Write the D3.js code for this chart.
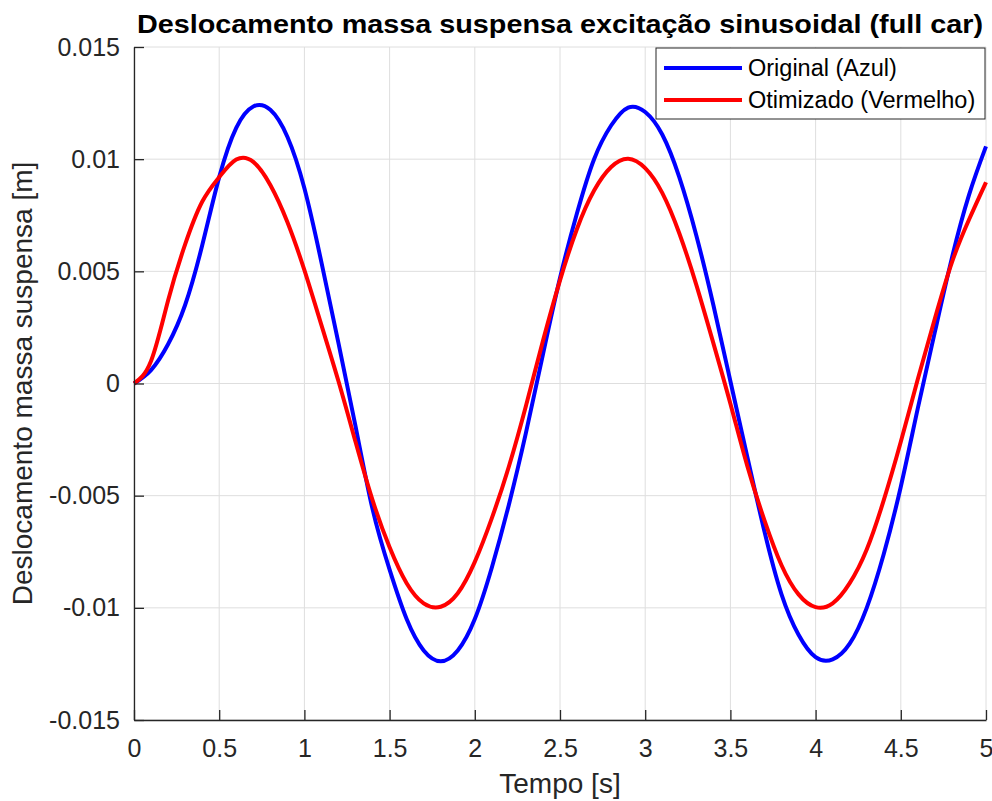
<!DOCTYPE html>
<html>
<head>
<meta charset="utf-8">
<script src="https://cdn.jsdelivr.net/npm/d3@7"></script>
<style>
  body { margin: 0; background: #fff; }
  svg { display: block; font-family: "Liberation Sans", Arial, sans-serif; }
  .axis text { font-size: 25px; fill: #262626; }
  .axis line, .axis path { stroke: #262626; stroke-width: 1.3; }
</style>
</head>
<body>
<div id="wrapper"></div>
<script>
// tempo [s], amostrado a cada 0.1 s
const tempo = d3.range(51).map(i => +(i * 0.1).toFixed(1));

// Original (Azul) [mm]
const originalMm = [
  0, 0.6, 1.75, 3.5, 6.15, 9.2, 11.4, 12.35, 12.2, 11.0,
  8.7, 5.4, 1.8, -1.9, -5.6, -8.3, -10.5, -11.9, -12.38, -11.9,
  -10.5, -8.2, -5.4, -2.2, 1.3, 4.7, 7.6, 10.0, 11.5, 12.3,
  12.1, 11.1, 9.2, 6.6, 3.5, 0.1, -3.3, -6.6, -9.4, -11.2,
  -12.2, -12.3, -11.6, -10.0, -7.6, -4.6, -1.1, 2.3, 5.6, 8.4,
  10.57
];

// Otimizado (Vermelho) [mm]
const otimizadoMm = [
  0, 1.0, 3.7, 6.2, 8.1, 9.2, 9.98, 9.88, 8.85, 7.2,
  5.05, 2.6, 0.1, -2.6, -5.2, -7.3, -8.9, -9.8, -9.95, -9.35,
  -7.95, -6.0, -3.7, -1.0, 1.9, 4.6, 6.9, 8.6, 9.65, 10.02,
  9.6, 8.5, 6.7, 4.4, 1.8, -0.9, -3.7, -6.1, -8.1, -9.4,
  -9.97, -9.8, -8.9, -7.4, -5.2, -2.6, 0.2, 2.9, 5.4, 7.3,
  8.97
];

const xTicks = [0, 0.5, 1, 1.5, 2, 2.5, 3, 3.5, 4, 4.5, 5];
const yTicks = [-0.015, -0.01, -0.005, 0, 0.005, 0.01, 0.015];

const series = [
  { name: 'Original (Azul)', color: '#0000ff', values: originalMm },
  { name: 'Otimizado (Vermelho)', color: '#ff0000', values: otimizadoMm }
];

const width = 992, height = 801;
const margin = { top: 47, right: 6, bottom: 81, left: 134 };

const svg = d3.select('#wrapper')
  .append('svg')
  .attr('width', width)
  .attr('height', height);

const xScale = d3.scaleLinear()
  .domain([0, 5])
  .range([margin.left, width - margin.right]);

const yScale = d3.scaleLinear()
  .domain([-0.015, 0.015])
  .range([height - margin.bottom, margin.top]);

// grade
const grid = svg.append('g').attr('stroke', '#dedede').attr('stroke-width', 1);
grid.selectAll('.gx')
  .data(xTicks)
  .join('line')
  .attr('x1', d => xScale(d)).attr('x2', d => xScale(d))
  .attr('y1', yScale.range()[0]).attr('y2', yScale.range()[1]);
grid.selectAll('.gy')
  .data(yTicks)
  .join('line')
  .attr('y1', d => yScale(d)).attr('y2', d => yScale(d))
  .attr('x1', xScale.range()[0]).attr('x2', xScale.range()[1]);

// curvas
const lineGenerator = d3.line()
  .x((d, i) => xScale(tempo[i]))
  .y(d => yScale(d / 1000))
  .curve(d3.curveNatural);

svg.append('g')
  .selectAll('path')
  .data(series)
  .join('path')
  .attr('d', d => lineGenerator(d.values))
  .attr('fill', 'none')
  .attr('stroke', d => d.color)
  .attr('stroke-width', 4)
  .attr('stroke-linejoin', 'round');

// eixos
const xAxis = svg.append('g')
  .attr('class', 'axis')
  .attr('transform', `translate(0, ${yScale.range()[0]})`)
  .call(d3.axisBottom(xScale)
    .tickValues(xTicks)
    .tickFormat(d => String(d))
    .tickSizeInner(-10)
    .tickSizeOuter(0)
    .tickPadding(13));
xAxis.selectAll('text').attr('dy', '0.95em');

const yAxis = svg.append('g')
  .attr('class', 'axis')
  .attr('transform', `translate(${xScale.range()[0]}, 0)`)
  .call(d3.axisLeft(yScale)
    .tickValues(yTicks)
    .tickFormat(d => String(d))
    .tickSizeInner(-10)
    .tickSizeOuter(0)
    .tickPadding(14));
yAxis.select('.domain').attr('stroke', '#555');

// títulos
svg.append('text')
  .attr('x', (xScale.range()[0] + xScale.range()[1]) / 2)
  .attr('y', 33)
  .attr('text-anchor', 'middle')
  .attr('font-size', 26.5)
  .attr('font-weight', 'bold')
  .attr('fill', '#000')
  .attr('textLength', 846)
  .attr('lengthAdjust', 'spacingAndGlyphs')
  .text('Deslocamento massa suspensa excitação sinusoidal (full car)');

svg.append('text')
  .attr('x', (xScale.range()[0] + xScale.range()[1]) / 2)
  .attr('y', 793)
  .attr('text-anchor', 'middle')
  .attr('font-size', 28)
  .attr('fill', '#262626')
  .text('Tempo [s]');

svg.append('text')
  .attr('transform', `translate(32, ${(yScale.range()[0] + yScale.range()[1]) / 2}) rotate(-90)`)
  .attr('text-anchor', 'middle')
  .attr('font-size', 28)
  .attr('fill', '#262626')
  .text('Deslocamento massa suspensa [m]');

// legenda
const legend = svg.append('g').attr('transform', 'translate(656, 48)');
legend.append('rect')
  .attr('width', 329).attr('height', 71)
  .attr('fill', '#fff')
  .attr('stroke', '#262626')
  .attr('stroke-width', 1);
const item = legend.selectAll('.item')
  .data(series)
  .join('g')
  .attr('transform', (d, i) => `translate(0, ${20 + i * 32})`);
item.append('line')
  .attr('x1', 8).attr('x2', 86)
  .attr('stroke', d => d.color)
  .attr('stroke-width', 4);
item.append('text')
  .attr('x', 92)
  .attr('dy', '0.35em')
  .attr('font-size', 23.5)
  .attr('fill', '#000')
  .text(d => d.name);
</script>
</body>
</html>
